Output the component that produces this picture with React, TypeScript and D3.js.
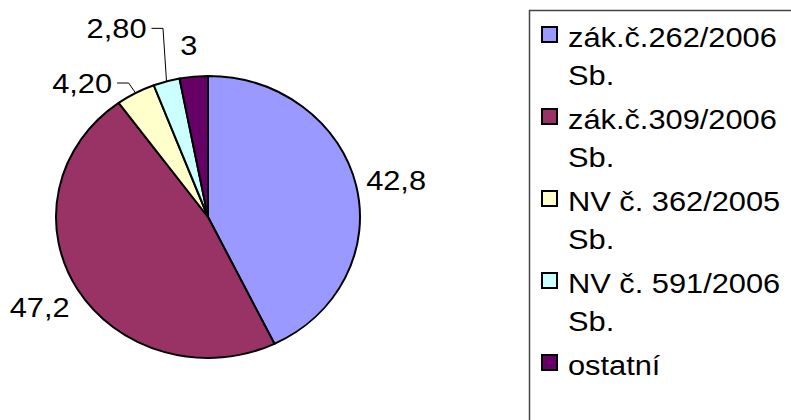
import React, { useEffect, useRef } from 'react';
import * as d3 from 'd3';

// legend texts, each broken into the lines shown in the chart
const legendLines = [
  ['zák.č.262/2006', 'Sb.'],
  ['zák.č.309/2006', 'Sb.'],
  ['NV č. 362/2005', 'Sb.'],
  ['NV č. 591/2006', 'Sb.'],
  ['ostatní'],
];
const values = [42.8, 47.2, 4.2, 2.8, 3];
const valueLabels = ['42,8', '47,2', '4,20', '2,80', '3'];
const colors = ['#9999FF', '#993366', '#FFFFCC', '#CCFFFF', '#660066'];

// label placement relative to the slice's outer edge midpoint
const labelLayout = [
  { dx: 10, dy: -5, anchor: 'start', leader: false },
  { dx: -8, dy: 17, anchor: 'end', leader: false },
  { dx: -23.5, dy: -10, anchor: 'end', leader: true },
  { dx: -20, dy: -53, anchor: 'end', leader: true },
  { dx: -5, dy: -31.5, anchor: 'middle', leader: false },
];

const App = () => {
  const ref = useRef(null);

  useEffect(() => {
    const width = 791;
    const height = 420;
    const cx = 208;
    const cy = 217;
    const rx = 152;
    const ry = 141;
    const font = 'Liberation Sans, Arial, sans-serif';
    const stretch = 1.1; // the original glyphs are a bit wider than Arial

    const svg = d3.select(ref.current);
    svg.selectAll('*').remove();
    svg.append('rect').attr('width', width).attr('height', height).attr('fill', 'white');

    const pie = d3.pie<number>().sort(null).value(d => d)(values);
    const arc = d3.arc<d3.PieArcDatum<number>>().innerRadius(0).outerRadius(rx);

    const g = svg.append('g')
      .attr('transform', `translate(${cx},${cy}) scale(1,${ry / rx})`);

    g.selectAll('path')
      .data(pie)
      .enter().append('path')
      .attr('d', arc)
      .attr('fill', (d, i) => colors[i])
      .attr('stroke', 'black')
      .attr('stroke-width', 2)
      .attr('stroke-linejoin', 'round')
      .attr('vector-effect', 'non-scaling-stroke');

    const addText = (parent, x, y, t, anchor) =>
      parent.append('text')
        .attr('transform', `translate(${x},${y}) scale(${stretch},1)`)
        .attr('text-anchor', anchor)
        .attr('dominant-baseline', 'central')
        .style('font-family', font)
        .style('font-size', '28px')
        .text(t);

    // data labels
    pie.forEach((d, i) => {
      const mid = (d.startAngle + d.endAngle) / 2;
      const ex = cx + rx * Math.sin(mid);
      const ey = cy - ry * Math.cos(mid);
      const lay = labelLayout[i];
      const lx = ex + lay.dx;
      const ly = ey + lay.dy;
      if (lay.leader) {
        svg.append('polyline')
          .attr('points', `${lx + 5},${ly} ${lx + 16.5},${ly} ${ex},${ey}`)
          .attr('fill', 'none')
          .attr('stroke', 'black')
          .attr('stroke-width', 1);
      }
      addText(svg, lx, ly, valueLabels[i], lay.anchor);
    });

    // legend
    const legend = svg.append('g');
    legend.append('rect')
      .attr('x', 529.5)
      .attr('y', 10.5)
      .attr('width', 300)
      .attr('height', 450)
      .attr('fill', 'white')
      .attr('stroke', '#444')
      .attr('stroke-width', 1.5);

    legendLines.forEach((lines, i) => {
      const y0 = 37 + i * 82;
      legend.append('rect')
        .attr('x', 542)
        .attr('y', y0 - 10)
        .attr('width', 15)
        .attr('height', 15)
        .attr('fill', colors[i])
        .attr('stroke', 'black')
        .attr('stroke-width', 2);
      lines.forEach((t, j) => {
        addText(legend, 568, y0 + j * 38, t, 'start');
      });
    });
  }, []);

  return (
    <svg
      ref={ref}
      width={791}
      height={420}
      style={{ position: 'absolute', left: 0, top: 0 }}
    />
  );
};

export default App;
